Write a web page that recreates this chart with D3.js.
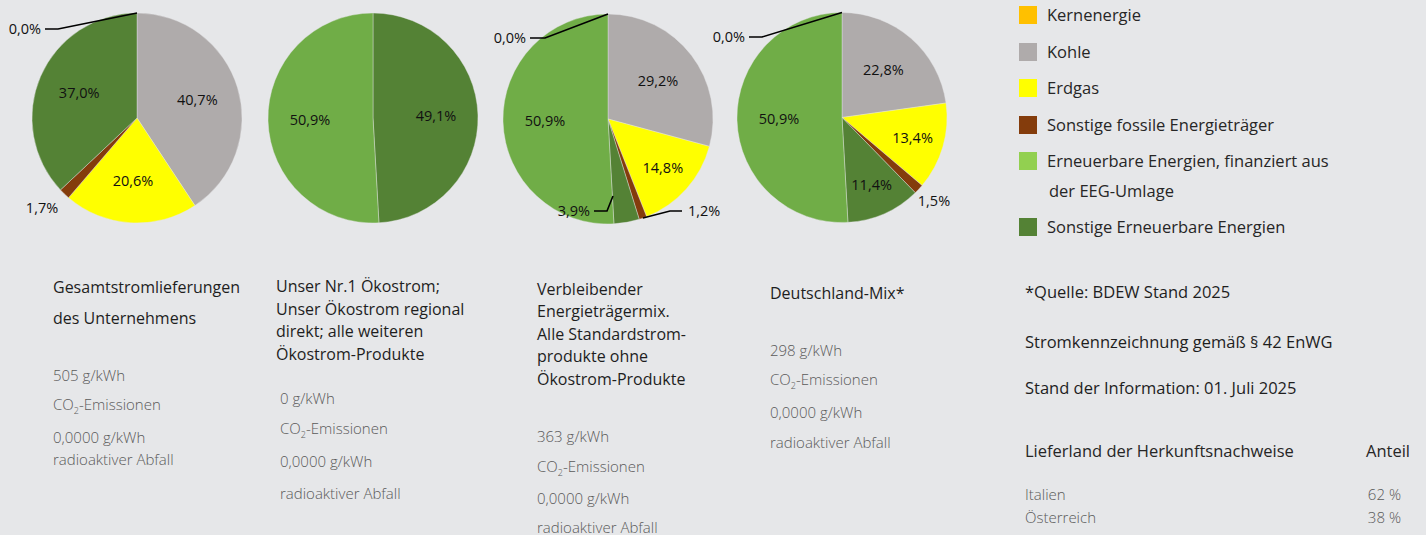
<!DOCTYPE html>
<html lang="de">
<head>
  <meta charset="UTF-8">
  <title>Stromkennzeichnung</title>
  <style>
body { margin: 0; background: #e6e7e9; }
svg { display: block; font-family: "Open Sans", sans-serif; }
  </style>
  <script src="https://cdnjs.cloudflare.com/ajax/libs/d3/7.8.5/d3.min.js"></script>
</head>
<body>
<div id="wrapper"></div>
<script>

// DATA
const categories = ["Kernenergie", "Kohle", "Erdgas", "Sonstige fossile Energieträger",
  "Sonstige Erneuerbare Energien", "Erneuerbare Energien, finanziert aus der EEG-Umlage"]
const sliceColors = ["#ffc000", "#afabab", "#ffff00", "#843c0c", "#548235", "#70ad47"]

// values per pie, same order as categories (clockwise from 12 o'clock)
const gesamt      = [0.0, 40.7, 20.6, 1.7, 37.0, 0.0]
const oekostrom   = [0.0, 0.0, 0.0, 0.0, 49.1, 50.9]
const verbleibend = [0.0, 29.2, 14.8, 1.2, 3.9, 50.9]
const deutschland = [0.0, 22.8, 13.4, 1.5, 11.4, 50.9]

const legendLabels = [["Kernenergie"], ["Kohle"], ["Erdgas"], ["Sonstige fossile Energieträger"],
  ["Erneuerbare Energien, finanziert  aus", "der EEG-Umlage"], ["Sonstige Erneuerbare Energien"]]
const legendColors = ["#ffc000", "#afabab", "#ffff00", "#843c0c", "#92d050", "#548235"]

const titles = [
  ["Gesamtstromlieferungen", "des Unternehmens"],
  ["Unser Nr.1 Ökostrom;", "Unser Ökostrom regional", "direkt; alle weiteren", "Ökostrom-Produkte"],
  ["Verbleibender", "Energieträgermix.", "Alle Standardstrom-", "produkte ohne", "Ökostrom-Produkte"],
  ["Deutschland-Mix*"]
]
const co2 = ["505 g/kWh", "0 g/kWh", "363 g/kWh", "298 g/kWh"]
const waste = ["0,0000 g/kWh", "0,0000 g/kWh", "0,0000 g/kWh", "0,0000 g/kWh"]

const notes = ["*Quelle: BDEW Stand 2025", "Stromkennzeichnung gemäß § 42 EnWG", "Stand der Information: 01. Juli 2025"]
const countries = ["Italien", "Österreich"]
const countryShares = ["62 %", "38 %"]

const fmt = v => d3.format(".1f")(v).replace(".", ",") + "%"

// LAYOUT
const width = 1426, height = 535
const radius = 105
const pieCenters = [[137, 118], [373, 118], [608, 119], [842, 117.5]]
const pies = [gesamt, oekostrom, verbleibend, deutschland]

// outside labels: slice index, text anchor point relative to pie center, leader elbow
const callouts = [
  [{i: 0, tx: -96, ty: -89, elbow: [-79, -89], anchor: "end"},
   {i: 3, tx: -95, ty: 90, anchor: "middle"}],
  [],
  [{i: 0, tx: -82, ty: -81, elbow: [-63, -81], anchor: "end"},
   {i: 4, tx: -18, ty: 92, elbow: [-1, 92], start: [5, 77], anchor: "end"},
   {i: 3, tx: 80, ty: 92, elbow: [62, 92], end: true, anchor: "start"}],
  [{i: 0, tx: -97, ty: -80.5, elbow: [-80, -80.5], anchor: "end"},
   {i: 3, tx: 92, ty: 83.5, anchor: "middle"}]
]

const svg = d3.select("#wrapper").append("svg")
  .attr("width", width)
  .attr("height", height)

const pie = d3.pie().sort(null).value(d => d)
const arc = d3.arc().innerRadius(0).outerRadius(radius)

pies.forEach(function (values, p) {
  const g = svg.append("g")
    .attr("transform", "translate(" + pieCenters[p][0] + "," + pieCenters[p][1] + ")")
  const arcs = pie(values)

  g.selectAll("path")
    .data(arcs.filter(d => d.value > 0))
    .join("path")
    .attr("d", arc)
    .attr("fill", d => sliceColors[d.index])
    .attr("stroke", "#e6e7e9")
    .attr("stroke-width", 0.4)

  const outside = callouts[p].map(c => c.i)

  // labels inside the slices
  g.selectAll("text.inner")
    .data(arcs.filter(d => d.value > 0 && outside.indexOf(d.index) < 0))
    .join("text")
    .attr("class", "inner")
    .attr("transform", function (d) {
      const r = (d.value < 15 ? 0.7 : 0.6) * radius
      const c = d3.arc().innerRadius(r).outerRadius(r).centroid(d)
      return "translate(" + c[0] + "," + c[1] + ")"
    })
    .attr("text-anchor", "middle")
    .attr("dy", "0.35em")
    .attr("font-size", 14.5)
    .attr("fill", "#111")
    .text(d => fmt(d.value))

  // labels outside with leader lines
  callouts[p].forEach(function (c) {
    const d = arcs[c.i]
    const mid = (d.startAngle + d.endAngle) / 2
    const start = c.start || [radius * Math.sin(mid), -radius * Math.cos(mid)]
    if (c.elbow) {
      const last = c.end ? [c.tx - 6, c.ty] : [c.tx + 4, c.ty]
      g.append("path")
        .attr("d", d3.line()([start, c.elbow, last]))
        .attr("fill", "none")
        .attr("stroke", "#000")
        .attr("stroke-width", 1.6)
    }
    g.append("text")
      .attr("x", c.tx)
      .attr("y", c.ty)
      .attr("dy", "0.35em")
      .attr("text-anchor", c.anchor)
      .attr("font-size", 14.5)
      .attr("fill", "#111")
      .text(fmt(d.value))
  })
})

// LEGEND
const legendY = [15, 52, 88, 125, 161, 227]
const legend = svg.append("g").attr("transform", "translate(1019,0)")
legendLabels.forEach(function (lines, i) {
  legend.append("rect")
    .attr("x", 0)
    .attr("y", legendY[i] - 9)
    .attr("width", 18)
    .attr("height", 18)
    .attr("fill", legendColors[i])
  lines.forEach(function (t, j) {
    legend.append("text")
      .attr("x", j === 0 ? 28 : 30)
      .attr("y", legendY[i] + j * 30)
      .attr("dy", "0.35em")
      .attr("font-size", 16.5)
      .attr("fill", "#262626")
      .text(t)
  })
})

// TEXT BLOCKS UNDER THE PIES
const blockX = [53, 276, 537, 770]
const titleY = [[287, 318], [286, 309, 331, 354], [289, 311, 334, 356, 379], [293]]
const valueX = [53, 280, 537, 770]
const valueY = [[376, 405, 438, 460], [399, 429, 462, 494], [437, 467, 499, 528], [351, 380, 413, 443]]

titles.forEach(function (lines, b) {
  const g = svg.append("g")
  lines.forEach(function (t, j) {
    g.append("text")
      .attr("x", blockX[b])
      .attr("y", titleY[b][j])
      .attr("dy", "0.35em")
      .attr("font-size", 16)
      .attr("fill", "#1e1e1e")
      .text(t)
  })
  const vy = valueY[b]
  const style = sel => sel.attr("x", valueX[b]).attr("dy", "0.35em").attr("font-size", 15)
    .attr("fill", "#5a5a5a").attr("font-weight", 300)
  g.append("text").call(style).attr("y", vy[0]).text(co2[b])
  const co2Text = g.append("text").call(style).attr("y", vy[1])
  co2Text.append("tspan").text("CO")
  co2Text.append("tspan").attr("font-size", 9).attr("dy", "0.45em").text("2")
  co2Text.append("tspan").attr("dy", "-0.3em").text("-Emissionen")
  g.append("text").call(style).attr("y", vy[2]).text(waste[b])
  g.append("text").call(style).attr("y", vy[3]).text("radioaktiver Abfall")
})

// NOTES AND COUNTRIES
const notesY = [292, 342, 388]
notes.forEach(function (t, i) {
  svg.append("text")
    .attr("x", 1025)
    .attr("y", notesY[i])
    .attr("dy", "0.35em")
    .attr("font-size", 16.5)
    .attr("fill", "#1e1e1e")
    .text(t)
})

svg.append("text").attr("x", 1025).attr("y", 451).attr("dy", "0.35em")
  .attr("font-size", 16.5).attr("fill", "#262626").text("Lieferland der Herkunftsnachweise")
svg.append("text").attr("x", 1366).attr("y", 451).attr("dy", "0.35em")
  .attr("font-size", 16.5).attr("fill", "#262626").text("Anteil")

const countryY = [495, 518]
countries.forEach(function (c, i) {
  svg.append("text").attr("x", 1025).attr("y", countryY[i]).attr("dy", "0.35em")
    .attr("font-size", 15).attr("font-weight", 300).attr("fill", "#5a5a5a").text(c)
  svg.append("text").attr("x", 1401).attr("y", countryY[i]).attr("dy", "0.35em")
    .attr("text-anchor", "end")
    .attr("font-size", 15).attr("font-weight", 300).attr("fill", "#5a5a5a").text(countryShares[i])
})

</script>
</body>
</html>
